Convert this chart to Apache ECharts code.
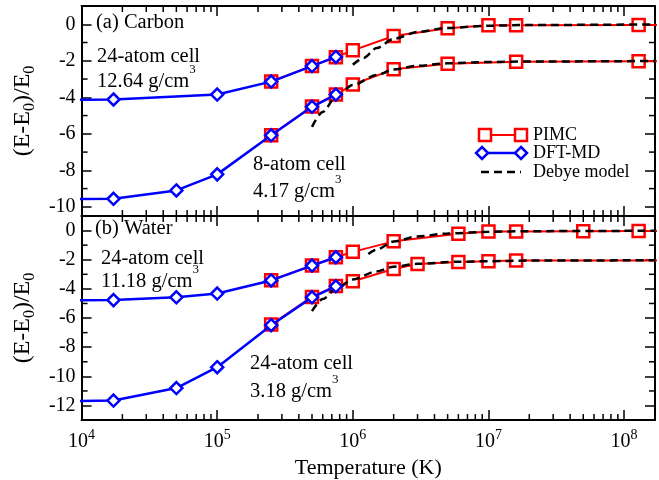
<!DOCTYPE html>
<html>
<head>
<meta charset="utf-8">
<script src="https://cdn.jsdelivr.net/npm/echarts@6/dist/echarts.min.js"></script>
<style>
html, body { margin: 0; padding: 0; background: #fff; }
#chart { width: 659px; height: 480px; }
</style>
</head>
<body>
<div id="chart"></div>
<script>
"use strict";

var FONT = "'Liberation Serif', 'Times New Roman', serif";

// axis ranges
var xMin = 1e4, xMax = 1.69e8;
var yRangeCarbon = [-10.5, 1];
var yRangeWater = [-13, 1];

// minor tick positions
var decades = [1e4, 1e5, 1e6, 1e7];
var minorMult = [2, 3, 4, 5, 6, 7, 8, 9];
var minorYCarbon = [-9, -7, -5, -3, -1];
var minorYWater = [-11, -9, -7, -5, -3, -1];

// (a) Carbon, 12.64 g/cm3 (24-atom cell)
var tDftC1 = [5e3, 1.72e4, 1e5, 2.5e5, 5e5, 7.5e5];
var vDftC1 = [-4.14, -4.12, -3.85, -3.14, -2.29, -1.79];
var tPimcC1 = [2.5e5, 5e5, 7.5e5, 1e6, 2e6, 5e6, 1e7, 1.6e7, 1.28e8, 3e8];
var vPimcC1 = [-3.14, -2.28, -1.8, -1.43, -0.64, -0.22, -0.05, -0.05, -0.04, -0.04];
var tDebC1 = [1e6, 1.2e6, 1.5e6, 2e6, 3e6, 5e6, 1e7, 2e7, 1.7e8];
var vDebC1 = [-2.22, -1.85, -1.3, -0.8, -0.42, -0.2, -0.08, -0.04, -0.01];

// (a) Carbon, 4.17 g/cm3 (8-atom cell)
var tDftC2 = [5e3, 1.72e4, 5e4, 1e5, 2.5e5, 5e5, 7.5e5];
var vDftC2 = [-9.58, -9.56, -9.1, -8.22, -6.08, -4.52, -3.85];
var tPimcC2 = [2.5e5, 5e5, 7.5e5, 1e6, 2e6, 5e6, 1.6e7, 1.28e8, 3e8];
var vPimcC2 = [-6.08, -4.5, -3.85, -3.3, -2.47, -2.16, -2.05, -2.03, -2.03];
var tDebC2 = [5e5, 6e5, 7.5e5, 1e6, 1.5e6, 2e6, 3e6, 5e6, 1e7, 2e7, 1.7e8];
var vDebC2 = [-5.62, -4.8, -3.97, -3.33, -2.78, -2.48, -2.27, -2.14, -2.07, -2.04, -2.01];

// (b) Water, 11.18 g/cm3
var tDftW1 = [5e3, 1.72e4, 5e4, 1e5, 2.5e5, 5e5, 7.5e5];
var vDftW1 = [-4.78, -4.77, -4.58, -4.32, -3.42, -2.4, -1.83];
var tPimcW1 = [2.5e5, 5e5, 7.5e5, 1e6, 2e6, 6e6, 1e7, 1.6e7, 5e7, 1.28e8, 3e8];
var vPimcW1 = [-3.4, -2.4, -1.83, -1.46, -0.74, -0.22, -0.07, -0.07, -0.05, -0.03, -0.03];
var tDebW1 = [1.3e6, 1.5e6, 2e6, 3e6, 5e6, 1e7, 2e7, 1.7e8];
var vDebW1 = [-1.6, -1.3, -0.75, -0.4, -0.2, -0.08, -0.04, -0.01];

// (b) Water, 3.18 g/cm3
var tDftW2 = [5e3, 1.72e4, 5e4, 1e5, 2.5e5, 5e5, 7.5e5];
var vDftW2 = [-11.72, -11.66, -10.8, -9.37, -6.49, -4.58, -3.82];
var tPimcW2 = [2.5e5, 5e5, 7.5e5, 1e6, 2e6, 3e6, 6e6, 1e7, 1.6e7, 3e8];
var vPimcW2 = [-6.45, -4.55, -3.8, -3.47, -2.64, -2.3, -2.15, -2.1, -2.06, -2.05];
var tDebW2 = [5e5, 6e5, 7.5e5, 1e6, 1.5e6, 2e6, 3e6, 6e6, 1e7, 2e7, 1.7e8];
var vDebW2 = [-5.52, -4.7, -4.0, -3.35, -2.8, -2.48, -2.28, -2.14, -2.1, -2.06, -2.03];

function pairs(t, v) {
    return t.map(function (x, i) { return [x, v[i]]; });
}

var minorX = [];
decades.forEach(function (d) {
    minorMult.forEach(function (m) { minorX.push(d * m); });
});

var tickStyle = { color: '#000', width: 1.5 };

function xAxisCfg(grid, pos, labels) {
    var ax = {
        gridIndex: grid, type: 'log', min: xMin, max: xMax, position: pos,
        axisLine: { onZero: false, lineStyle: { color: '#000', width: 2 } },
        axisTick: { inside: true, length: 10, lineStyle: tickStyle },
        splitLine: { show: false },
        axisLabel: { show: false }
    };
    if (labels) {
        ax.axisLabel = {
            show: true, margin: 8, showMaxLabel: false,
            fontFamily: FONT, fontSize: 20, color: '#000', lineHeight: 28,
            formatter: function (v) {
                return '10{sup|' + Math.round(Math.log10(v)) + '}';
            },
            rich: { sup: { fontFamily: FONT, fontSize: 14, lineHeight: 14, verticalAlign: 'top', color: '#000' } }
        };
        ax.name = 'Temperature (K)';
        ax.nameLocation = 'middle';
        ax.nameGap = 33;
        ax.nameTextStyle = { fontFamily: FONT, fontSize: 22, color: '#000' };
    }
    return ax;
}

function yAxisCfg(grid, pos, range, split, labels) {
    var ax = {
        gridIndex: grid, type: 'value', min: range[0], max: range[1], splitNumber: split, position: pos,
        axisLine: { onZero: false, lineStyle: { color: '#000', width: 2 } },
        axisTick: { inside: true, length: 10, lineStyle: tickStyle },
        splitLine: { show: false },
        axisLabel: { show: false }
    };
    if (labels) {
        ax.axisLabel = {
            show: true, margin: 6, showMinLabel: false, showMaxLabel: false,
            fontFamily: FONT, fontSize: 20, color: '#000'
        };
        ax.name = '(E-E{sub|0})/E{sub|0}';
        ax.nameLocation = 'middle';
        ax.nameGap = 34;
        ax.nameTextStyle = {
            fontFamily: FONT, fontSize: 24, color: '#000', lineHeight: 30,
            rich: { sub: { fontFamily: FONT, fontSize: 16, lineHeight: 15, verticalAlign: 'bottom', color: '#000' } }
        };
    }
    return ax;
}

function pimc(name, xi, data) {
    return {
        name: name, type: 'line', xAxisIndex: xi, yAxisIndex: xi, data: data, z: 2,
        symbol: 'rect', symbolSize: 12,
        lineStyle: { color: '#ff0000', width: 2 },
        itemStyle: { color: '#fff', borderColor: '#ff0000', borderWidth: 2.5 }
    };
}

function dft(name, xi, data) {
    return {
        name: name, type: 'line', xAxisIndex: xi, yAxisIndex: xi, data: data, z: 4,
        symbol: 'diamond', symbolSize: 12,
        lineStyle: { color: '#0000ff', width: 2.5 },
        itemStyle: { color: '#fff', borderColor: '#0000ff', borderWidth: 2.5 }
    };
}

function debye(name, xi, data) {
    return {
        name: name, type: 'line', xAxisIndex: xi, yAxisIndex: xi, data: data, z: 3,
        symbol: 'none', smooth: 0.3, smoothMonotone: 'x',
        lineStyle: { color: '#000', width: 2.5, type: [8, 5] }
    };
}

// short inward minor ticks on all four sides of a panel
function minorTicks(xi, yVals) {
    var data = minorX.map(function (v) { return ['x', v]; })
        .concat(yVals.map(function (v) { return ['y', v]; }));
    return {
        type: 'custom', xAxisIndex: xi, yAxisIndex: xi, silent: true, z: 5,
        encode: { x: 1, y: 1 },
        data: data,
        renderItem: function (params, api) {
            var cs = params.coordSys;
            var st = { stroke: '#000', lineWidth: 1.5 };
            var kind = data[params.dataIndex][0];
            var v = data[params.dataIndex][1];
            if (kind === 'x') {
                var x = api.coord([v, 0])[0];
                var b = cs.y + cs.height;
                return { type: 'group', children: [
                    { type: 'line', shape: { x1: x, y1: b, x2: x, y2: b - 6 }, style: st },
                    { type: 'line', shape: { x1: x, y1: cs.y, x2: x, y2: cs.y + 6 }, style: st }
                ] };
            }
            var y = api.coord([xMin, v])[1];
            var r = cs.x + cs.width;
            return { type: 'group', children: [
                { type: 'line', shape: { x1: cs.x, y1: y, x2: cs.x + 6, y2: y }, style: st },
                { type: 'line', shape: { x1: r, y1: y, x2: r - 6, y2: y }, style: st }
            ] };
        }
    };
}

var supRich = { sup: { fontFamily: FONT, fontSize: 13, lineHeight: 14, verticalAlign: 'top', fill: '#000' } };

function note(x, y, text, size) {
    return {
        type: 'text', x: x, y: y, z: 100,
        style: {
            text: text, fontFamily: FONT, fontSize: size || 20.5, fill: '#000',
            lineHeight: 38, align: 'left', verticalAlign: 'middle', rich: supRich
        }
    };
}

function legendEntry(y, text, x0, x1, icon) {
    var items = [];
    if (icon === 'rect') {
        items.push({ type: 'line', shape: { x1: x0, y1: y, x2: x1, y2: y }, style: { stroke: '#ff0000', lineWidth: 2 } });
        [x0, x1].forEach(function (cx) {
            items.push({ type: 'rect', shape: { x: cx - 6, y: y - 6, width: 12, height: 12 },
                style: { fill: '#fff', stroke: '#ff0000', lineWidth: 2.5 } });
        });
    } else if (icon === 'diamond') {
        items.push({ type: 'line', shape: { x1: x0, y1: y, x2: x1, y2: y }, style: { stroke: '#0000ff', lineWidth: 2.5 } });
        [x0, x1].forEach(function (cx) {
            items.push({ type: 'polygon', shape: { points: [[cx, y - 6], [cx + 6, y], [cx, y + 6], [cx - 6, y]] },
                style: { fill: '#fff', stroke: '#0000ff', lineWidth: 2.5 } });
        });
    } else {
        items.push({ type: 'line', shape: { x1: x0, y1: y, x2: x1, y2: y },
            style: { stroke: '#000', lineWidth: 2.5, lineDash: [8, 5] } });
    }
    items.push({ type: 'text', x: 533, y: y,
        style: { text: text, fontFamily: FONT, fontSize: 18, fill: '#000', verticalAlign: 'middle' } });
    return items;
}

var chart = echarts.init(document.getElementById('chart'), null, { renderer: 'canvas' });

var option = {
    animation: false,
    backgroundColor: '#fff',
    grid: [
        { left: 79, right: 4, top: 6, height: 210 },
        { left: 79, right: 4, top: 216, height: 207 }
    ],
    xAxis: [
        xAxisCfg(0, 'bottom', false),
        xAxisCfg(0, 'top', false),
        xAxisCfg(1, 'bottom', true),
        xAxisCfg(1, 'top', false)
    ],
    yAxis: [
        yAxisCfg(0, 'left', yRangeCarbon, 6, true),
        yAxisCfg(0, 'right', yRangeCarbon, 6, false),
        yAxisCfg(1, 'left', yRangeWater, 7, true),
        yAxisCfg(1, 'right', yRangeWater, 7, false)
    ],
    series: [
        pimc('PIMC', 0, pairs(tPimcC1, vPimcC1)),
        pimc('PIMC', 0, pairs(tPimcC2, vPimcC2)),
        debye('Debye model', 0, pairs(tDebC1, vDebC1)),
        debye('Debye model', 0, pairs(tDebC2, vDebC2)),
        dft('DFT-MD', 0, pairs(tDftC1, vDftC1)),
        dft('DFT-MD', 0, pairs(tDftC2, vDftC2)),
        pimc('PIMC', 2, pairs(tPimcW1, vPimcW1)),
        pimc('PIMC', 2, pairs(tPimcW2, vPimcW2)),
        debye('Debye model', 2, pairs(tDebW1, vDebW1)),
        debye('Debye model', 2, pairs(tDebW2, vDebW2)),
        dft('DFT-MD', 2, pairs(tDftW1, vDftW1)),
        dft('DFT-MD', 2, pairs(tDftW2, vDftW2)),
        minorTicks(0, minorYCarbon),
        minorTicks(2, minorYWater)
    ],
    graphic: [
        note(96, 23, '(a) Carbon'),
        note(97, 57, '24-atom cell'),
        note(97, 82, '12.64 g/cm{sup|3}'),
        note(253, 165, '8-atom cell'),
        note(253, 192, '4.17 g/cm{sup|3}'),
        note(95, 229, '(b) Water'),
        note(101, 259, '24-atom cell'),
        note(101, 282, '11.18 g/cm{sup|3}'),
        note(250, 364, '24-atom cell'),
        note(250, 392, '3.18 g/cm{sup|3}')
    ].concat(
        legendEntry(135, 'PIMC', 485, 521, 'rect'),
        legendEntry(153, 'DFT-MD', 482, 521, 'diamond'),
        legendEntry(172, 'Debye model', 481, 521, 'dash')
    )
};

chart.setOption(option);
</script>
</body>
</html>
